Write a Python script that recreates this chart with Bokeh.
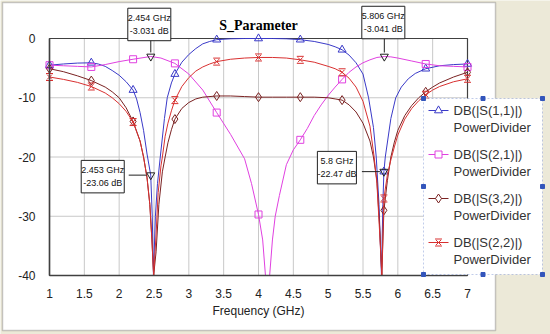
import numpy as np
from bokeh.plotting import figure
from bokeh.models import Range1d, FixedTicker, Label, BoxAnnotation
from bokeh.embed import file_html
from bokeh.resources import INLINE

# ---------------- data ----------------
TITLE = "S_Parameter"
X_LABEL = "Frequency (GHz)"
X_TICKS = [1, 1.5, 2, 2.5, 3, 3.5, 4, 4.5, 5, 5.5, 6, 6.5, 7]
X_TICK_LABELS = ["1", "1.5", "2", "2.5", "3", "3.5", "4", "4.5", "5", "5.5", "6", "6.5", "7"]
Y_TICKS = [-40, -30, -20, -10, 0]
Y_TICK_LABELS = ["-40", "-30", "-20", "-10", "0"]
MARKER_F = [1.0, 1.6, 2.2, 2.8, 3.4, 4.0, 4.6, 5.2, 5.8, 6.4, 7.0]

# values below the -40 dB floor of the chart are shown at the floor
F_S11 = [1.0, 1.2, 1.4, 1.6, 1.7, 1.8, 1.9, 2.0, 2.1, 2.2, 2.25, 2.3, 2.35, 2.4, 2.453, 2.475, 2.492,
         2.52, 2.55, 2.59, 2.65, 2.69, 2.75, 2.8, 2.9, 3.0, 3.1, 3.2, 3.3, 3.4, 3.6, 3.8, 4.0, 4.2,
         4.4, 4.6, 4.8, 5.0, 5.1, 5.2, 5.3, 5.4, 5.5, 5.58, 5.65, 5.69, 5.73, 5.765, 5.785, 5.8,
         5.82, 5.9, 5.97, 6.05, 6.15, 6.25, 6.4, 6.6, 6.8, 7.0]
DB_S11 = [-4.5, -4.3, -4.15, -4.1, -4.3, -4.7, -5.4, -6.2, -7.3, -8.7, -10.2, -12.5, -15.5, -19.5, -23.06, -30, -40,
          -30, -24.5, -20, -13.5, -10, -7.5, -6.0, -4.0, -2.7, -1.7, -0.9, -0.5, -0.2, -0.05, 0.0, 0.0, 0.0,
          -0.05, -0.2, -0.5, -1.0, -1.4, -1.9, -2.8, -4.1, -6.0, -10, -15, -20, -28, -40, -28, -22.47,
          -20, -13.5, -10, -8.2, -6.8, -5.9, -5.1, -4.6, -4.4, -4.3]

F_S21 = [1.0, 1.2, 1.4, 1.6, 1.8, 2.0, 2.2, 2.454, 2.6, 2.8, 3.0, 3.2, 3.4, 3.6, 3.8, 3.9, 4.0, 4.06,
         4.1, 4.16, 4.2, 4.24, 4.3, 4.4, 4.5, 4.6, 4.7, 4.8, 4.9, 5.0, 5.1, 5.2, 5.3, 5.4, 5.5, 5.6,
         5.7, 5.806, 5.9, 6.0, 6.2, 6.4, 6.6, 6.8, 7.0]
DB_S21 = [-4.5, -4.6, -4.7, -4.8, -4.4, -3.9, -3.5, -3.031, -3.3, -4.2, -6.0, -8.7, -12.5, -16.2, -20.3, -24.5, -29.7, -34,
          -40, -40, -34, -30, -26.5, -21.3, -18.8, -17.1, -15.2, -13.0, -11.2, -9.6, -8.2, -6.9, -5.7, -4.8, -4.1, -3.6,
          -3.2, -3.041, -3.1, -3.3, -3.8, -4.3, -4.6, -4.7, -4.8]

F_S32 = [1.0, 1.2, 1.4, 1.6, 1.8, 1.9, 2.0, 2.1, 2.2, 2.3, 2.35, 2.4, 2.44, 2.47, 2.495, 2.53, 2.57, 2.62,
         2.66, 2.7, 2.75, 2.8, 2.9, 3.0, 3.1, 3.2, 3.4, 3.6, 3.8, 4.0, 4.2, 4.4, 4.6, 4.8, 5.0, 5.1,
         5.2, 5.3, 5.4, 5.5, 5.6, 5.65, 5.7, 5.74, 5.77, 5.8, 5.85, 5.9, 5.95, 6.0, 6.1, 6.2, 6.3,
         6.4, 6.5, 6.6, 6.8, 7.0]
DB_S32 = [-5.1, -5.6, -6.3, -7.1, -8.2, -9.0, -10.0, -11.7, -14.0, -17.3, -20, -23.5, -28, -34, -40, -36, -28, -22.5,
          -20, -17.6, -15.4, -13.6, -11.8, -10.8, -10.2, -9.9, -9.7, -9.7, -9.8, -9.9, -9.9, -9.9, -9.9, -9.9, -10.0, -10.2,
          -10.4, -11.2, -12.4, -14.3, -17.3, -20, -24, -32, -40, -29, -24, -20, -17.5, -15.5, -13, -11.3, -10.0,
          -9.0, -8.2, -7.5, -6.5, -5.7]

F_S22 = [1.0, 1.2, 1.4, 1.6, 1.8, 1.9, 2.0, 2.1, 2.2, 2.3, 2.35, 2.4, 2.44, 2.47, 2.495, 2.53, 2.56, 2.6,
         2.62, 2.66, 2.7, 2.75, 2.8, 2.9, 3.0, 3.1, 3.2, 3.3, 3.4, 3.6, 3.8, 4.0, 4.2, 4.4, 4.6, 4.8,
         5.0, 5.1, 5.2, 5.3, 5.4, 5.5, 5.6, 5.66, 5.7, 5.74, 5.77, 5.8, 5.85, 5.9, 5.95, 6.0, 6.1,
         6.2, 6.3, 6.4, 6.5, 6.6, 6.8, 7.0]
DB_S22 = [-6.5, -6.9, -7.4, -8.1, -9.2, -10.0, -11.0, -12.3, -14.1, -17.3, -20, -23.5, -28, -34, -40, -33, -26, -21.5,
          -20, -16.5, -14.3, -12.2, -10.4, -8.1, -6.6, -5.5, -4.8, -4.3, -3.9, -3.5, -3.3, -3.2, -3.2, -3.3, -3.6, -4.0,
          -4.7, -5.1, -5.7, -6.7, -8.2, -10.6, -14.8, -20, -24.5, -33, -40, -27, -23, -20.5, -18.3, -16.3, -13.6,
          -11.8, -10.5, -9.5, -8.7, -8.1, -7.3, -6.8]

SERIES_NAMES = ["DB(|S(1,1)|)", "DB(|S(2,1)|)", "DB(|S(3,2)|)", "DB(|S(2,2)|)"]
SERIES_SOURCE = "PowerDivider"

ANN_F = [2.454, 5.806, 2.453, 5.8]
ANN_DB = [-3.031, -3.041, -23.06, -22.47]
ANN_TEXT = ["2.454 GHz\n-3.031 dB", "5.806 GHz\n-3.041 dB", "2.453 GHz\n-23.06 dB", "5.8 GHz\n-22.47 dB"]

# ---------------- layout / style ----------------
W, H = 550, 334
FL, FT, FB = 49, 38, 275          # pixel positions of x=1, y=0, y=-40
PX_XMAX = 467                     # pixel position of x=7
X0, X1 = X_TICKS[0], X_TICKS[-1]
Y0, Y1 = Y_TICKS[0], Y_TICKS[-1]
XS = (PX_XMAX - FL) / (X1 - X0)
YS = (FB - FT) / (Y1 - Y0)


def px2x(px):
    return X0 + (px - FL) / XS


def px2y(py):
    return Y1 - (py - FT) / YS


BEIGE = "#ece9d8"
FONT = "Liberation Sans"
COL = ["#3a3ac8", "#e040e0", "#7a2222", "#d83030"]
GRID = "#c8c8c8"
DARK = "#404040"
LEG_BLUE = "#3355bb"

p = figure(width=W, height=H, output_backend="svg", toolbar_location=None, title=None,
           x_range=Range1d(px2x(0), px2x(W)), y_range=Range1d(px2y(H), px2y(0)),
           min_border=0, min_border_left=0, min_border_right=0, min_border_top=0, min_border_bottom=0,
           background_fill_color=BEIGE, border_fill_color=BEIGE)
p.outline_line_color = None
p.xgrid.visible = False
p.ygrid.visible = False

panel = BoxAnnotation(left=2, right=495, top=2, bottom=330,
                      left_units="canvas", right_units="canvas", top_units="canvas", bottom_units="canvas",
                      fill_color="white", fill_alpha=1.0, line_color="#505050", line_width=1.5, level="image")
p.add_layout(panel)

# grid lines inside the plot box
p.segment(x0=[X0] * len(Y_TICKS), x1=[X1] * len(Y_TICKS), y0=Y_TICKS, y1=Y_TICKS,
          line_color=GRID, line_width=1, level="underlay")
p.segment(x0=X_TICKS, x1=X_TICKS, y0=[Y0] * len(X_TICKS), y1=[Y1] * len(X_TICKS),
          line_color=GRID, line_width=1, level="underlay")
p.quad(left=[X0], right=[X1], bottom=[Y0], top=[Y1], fill_color=None, line_color=DARK,
       line_width=1.2, level="underlay")

# axes
xa = p.xaxis[0]
xa.ticker = FixedTicker(ticks=X_TICKS)
xa.major_label_overrides = {t: s for t, s in zip(X_TICKS, X_TICK_LABELS)}
xa.bounds = (X0, X1)
xa.fixed_location = Y0
ya = p.yaxis[0]
ya.ticker = FixedTicker(ticks=Y_TICKS)
ya.major_label_overrides = {t: s for t, s in zip(Y_TICKS, Y_TICK_LABELS)}
ya.bounds = (Y0, Y1)
ya.fixed_location = X0
for ax in (xa, ya):
    ax.axis_line_color = DARK
    ax.axis_line_width = 1.5
    ax.major_tick_line_color = None
    ax.minor_tick_line_color = None
    ax.major_tick_out = 0
    ax.major_tick_in = 0
    ax.major_label_text_font = FONT
    ax.major_label_text_font_size = "12px"
    ax.major_label_text_color = "#222222"
xa.major_label_standoff = 13
ya.major_label_standoff = 14
xa.axis_label = X_LABEL
xa.axis_label_text_font = FONT
xa.axis_label_text_font_size = "12px"
xa.axis_label_text_font_style = "normal"
xa.axis_label_text_color = "#222222"
xa.axis_label_standoff = 3


def markers(F, DB):
    F = np.asarray(F, float)
    DB = np.asarray(DB, float)
    m = np.isin(np.round(F, 3), np.round(MARKER_F, 3))
    return F[m], DB[m]


HG_OFF = 3.5 / YS   # hourglass bar offset (3.5 px)
series = [(F_S11, DB_S11, "triangle", 8), (F_S21, DB_S21, "square", 7),
          (F_S32, DB_S32, "diamond", 9), (F_S22, DB_S22, "x", 7)]
for i, (F, DB, mk, sz) in enumerate(series):
    p.line(F, DB, line_color=COL[i], line_width=1)
    mf, md = markers(F, DB)
    p.scatter(mf, md, marker=mk, size=sz, line_color=COL[i], fill_color=None, line_width=1)
    if mk == "x":
        p.scatter(mf, md + HG_OFF, marker="dash", size=7, line_color=COL[i], line_width=1)
        p.scatter(mf, md - HG_OFF, marker="dash", size=7, line_color=COL[i], line_width=1)

# annotation markers and leader lines
p.scatter(ANN_F, ANN_DB, marker="inverted_triangle", size=8, line_color="#202020", fill_color=None, line_width=1)
LEAD = [(0, 4, 0, 20), (0, 4, 0, 22), (-4, 0, -22, 0), (-4, 0, -22, 0)]
p.segment(x0=[f + l[0] / XS for f, l in zip(ANN_F, LEAD)], y0=[d + l[1] / YS for d, l in zip(ANN_DB, LEAD)],
          x1=[f + l[2] / XS for f, l in zip(ANN_F, LEAD)], y1=[d + l[3] / YS for d, l in zip(ANN_DB, LEAD)],
          line_color="#202020", line_width=1)
BOX_OFF = [(-1.5, 32), (-1, 34), (-48, -1.5), (-47, 4)]
for f, d, t, (ox, oy) in zip(ANN_F, ANN_DB, ANN_TEXT, BOX_OFF):
    p.add_layout(Label(x=f, y=d, x_offset=ox + 2, y_offset=oy - 2, text=t, text_align="center",
                       text_baseline="middle", text_font=FONT, text_font_size="9px", text_alpha=0,
                       background_fill_color="#8a8a8a", padding=(0, 5), text_line_height=1.25))
    p.add_layout(Label(x=f, y=d, x_offset=ox, y_offset=oy, text=t, text_align="center",
                       text_baseline="middle", text_font=FONT, text_font_size="9px", text_color="#111111",
                       background_fill_color="white", border_line_color="#202020", border_line_width=1,
                       padding=(0, 5), text_line_height=1.25))

# title
p.add_layout(Label(x=(X0 + X1) / 2, y=Y1, y_offset=13, text=TITLE, text_align="center", text_baseline="middle",
                   text_font="Liberation Serif", text_font_size="14px", text_font_style="bold",
                   text_color="black"))

# legend box (drawn by hand for exact line spacing)
LEG_L, LEG_R, LEG_T, LEG_B = 423, 542, 98, 274
LEG_ROW0, LEG_PITCH, LEG_LINE2 = 110, 44, 17
LEG_G0, LEG_G1, LEG_TX = 428, 448, 453
p.add_layout(BoxAnnotation(left=LEG_L, right=LEG_R, top=LEG_T, bottom=LEG_B,
                           left_units="canvas", right_units="canvas", top_units="canvas", bottom_units="canvas",
                           fill_color="white", fill_alpha=1.0, line_color=LEG_BLUE, line_dash="2 2",
                           line_width=1))
ly = [px2y(LEG_ROW0 + LEG_PITCH * i) for i in range(len(SERIES_NAMES))]
for i, name in enumerate(SERIES_NAMES):
    y1 = LEG_ROW0 + LEG_PITCH * i
    p.add_layout(Label(x=px2x(LEG_TX), y=px2y(y1), text=name, text_align="left", text_baseline="middle",
                       text_font=FONT, text_font_size="13px", text_color="#333333"))
    p.add_layout(Label(x=px2x(LEG_TX), y=px2y(y1 + LEG_LINE2), text=SERIES_SOURCE, text_align="left",
                       text_baseline="middle", text_font=FONT, text_font_size="13px", text_color="#333333"))
    mk, sz = series[i][2], series[i][3]
    p.segment(x0=[px2x(LEG_G0)], x1=[px2x(LEG_G1)], y0=[ly[i]], y1=[ly[i]], line_color=COL[i],
              line_width=1, level="overlay")
    gx = px2x((LEG_G0 + LEG_G1) / 2)
    p.scatter([gx], [ly[i]], marker=mk, size=sz, line_color=COL[i], fill_color="white", line_width=1,
              level="overlay")
    if mk == "x":
        p.scatter([gx, gx], [ly[i] + HG_OFF, ly[i] - HG_OFF], marker="dash", size=7, line_color=COL[i],
                  line_width=1, level="overlay")

hx = [px2x(LEG_L), px2x((LEG_L + LEG_R) / 2), px2x(LEG_R), px2x(LEG_L), px2x(LEG_R),
      px2x(LEG_L), px2x((LEG_L + LEG_R) / 2), px2x(LEG_R)]
hy = [px2y(LEG_T)] * 3 + [px2y((LEG_T + LEG_B) / 2)] * 2 + [px2y(LEG_B)] * 3
p.scatter(hx, hy, marker="square", size=4, fill_color=LEG_BLUE, line_color=LEG_BLUE, level="overlay")

open("out.html", "w").write(file_html(p, INLINE))
